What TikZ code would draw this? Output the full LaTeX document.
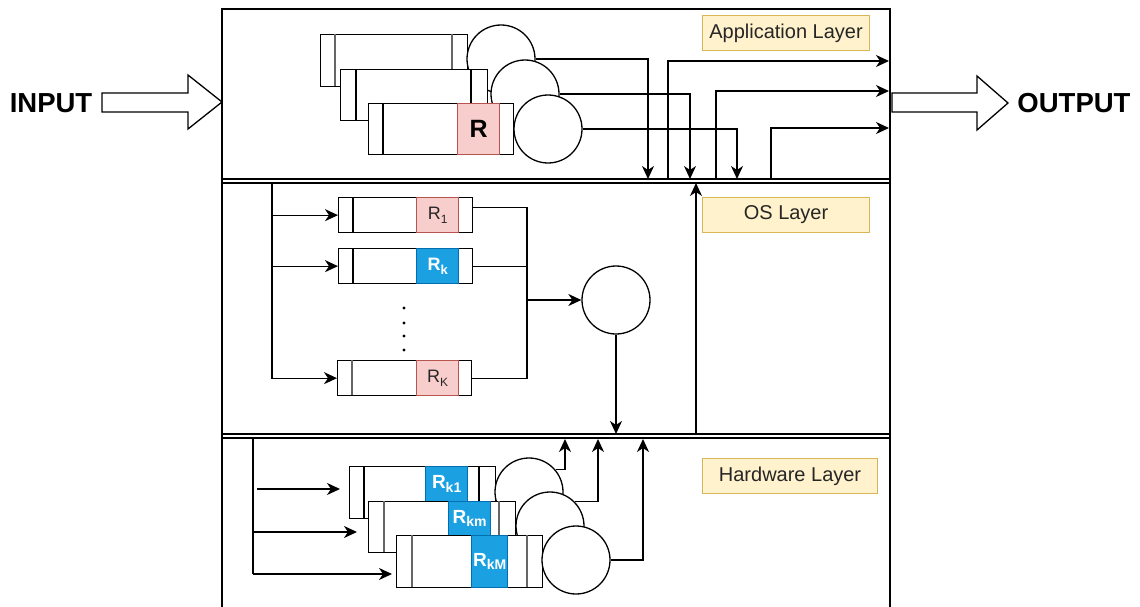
\documentclass[tikz,border=0pt]{standalone}
\usepackage{fontspec}
\setmainfont{Liberation Sans}
\usetikzlibrary{arrows.meta}
\definecolor{pinkF}{HTML}{F8CECC}
\definecolor{pinkD}{HTML}{B85450}
\definecolor{blueF}{HTML}{1BA1E2}
\definecolor{blueD}{HTML}{006EAF}
\definecolor{yelF}{HTML}{FFF2CC}
\definecolor{yelD}{HTML}{D6B656}
\newcommand\subx[2]{\raisebox{-0.35ex}{\fontsize{#1}{#1}\selectfont #2}}
\begin{document}
\begin{tikzpicture}[x=1pt,y=-1pt,line width=1.3pt,
  con/.style={-{Stealth[length=13pt,width=12pt,inset=4pt]}},
  qbox/.style={draw,fill=white,inner sep=0pt,anchor=north west},
  cbox/.style={inner sep=0pt,anchor=north west},
  pinkbox/.style={cbox,draw=pinkD,fill=pinkF},
  bluebox/.style={cbox,draw=blueD,fill=blueF},
  inl/.style={draw=black!60,line width=1.6pt},
  srv/.style={circle,draw,fill=white,minimum size=68pt,inner sep=0pt},
  lab/.style={draw=yelD,fill=yelF,inner sep=0pt,anchor=north west,text=black!85,line width=1.1pt,font=\fontsize{20}{20}\selectfont},
  big/.style={font=\bfseries\fontsize{27.5}{27.5}\selectfont},
  bigarrow/.style={draw,fill=white,line width=1.3pt,line join=miter}
]
\useasboundingbox (0,0) rectangle (1140,607);

% frame and layer separators
\draw[line width=1.4pt] (222,607) -- (222,9) -- (890,9) -- (890,607);
\draw (222,179) -- (890,179);
\draw (222,183) -- (890,183);
\draw (222,434) -- (890,434);
\draw (222,438) -- (890,438);

% labels
\node[lab,minimum width=167pt,minimum height=35pt] (appl) at (702,15) {Application Layer};
\node[lab,minimum width=167pt,minimum height=35pt] (osl) at (702,197) {OS Layer};
\node[lab,minimum width=175pt,minimum height=35pt] (hwl) at (702,458) {Hardware Layer};

% INPUT / OUTPUT
\node[big] (inp) at (51,103) {INPUT};
\node[big] (outp) at (1074,103) {OUTPUT};
\draw[bigarrow] (102,93) -- (188,93) -- (188,75) -- (222,102) -- (188,129) -- (188,112) -- (102,112) -- cycle;
\draw[bigarrow] (892,93) -- (977,93) -- (977,76) -- (1008,103) -- (977,130) -- (977,112) -- (892,112) -- cycle;

% ---------------- application layer
\node[qbox,minimum width=147pt,minimum height=52pt] (A1) at (320,34) {};
\draw[inl] (335,34) -- (335,86);
\draw[inl] (452,34) -- (452,86);
\node[srv] (C1) at (501,59) {};
\node[qbox,minimum width=147pt,minimum height=51pt] (A2) at (340,69) {};
\draw (356,69) -- (356,120);
\draw (471,69) -- (471,120);
\node[srv] (C2) at (525,94) {};
\node[qbox,minimum width=145pt,minimum height=51pt] (A3) at (368,103) {};
\draw (383,103) -- (383,154);
\node[pinkbox,minimum width=42pt,minimum height=51pt] (RA) at (457,103) {};
\node[font=\bfseries\fontsize{25}{25}\selectfont] (RAt) at (RA.center) {R};
\node[srv] (C3) at (548,129) {};

\coordinate (s1) at (648,179);
\coordinate (s2) at (690,179);
\coordinate (s3) at (737,179);
\draw[con] (C1.east) -| (s1);
\draw[con] (C2.east) -| (s2);
\draw[con] (C3.east) -| (s3);

\coordinate (o1s) at (668,179);
\coordinate (o2s) at (716,179);
\coordinate (o3s) at (771,179);
\coordinate (o1) at (889,61);
\coordinate (o2) at (889,91);
\coordinate (o3) at (889,128);
\draw[con] (o1s) |- (o1);
\draw[con] (o2s) |- (o2);
\draw[con] (o3s) |- (o3);

\coordinate (u0) at (696,434);
\coordinate (u1) at (696,183);
\draw[con] (u0) -- (u1);

% ---------------- OS layer
\coordinate (b0) at (272,183);
\coordinate (b1) at (272,373);
\draw (b0) -- (b1);
\node[qbox,minimum width=134pt,minimum height=35pt] (O1) at (338,197) {};
\node[qbox,minimum width=134pt,minimum height=35pt] (O2) at (338,248) {};
\node[qbox,minimum width=134pt,minimum height=35pt] (O3) at (337,360) {};
\draw (353,197) -- (353,232);
\draw (353,248) -- (353,283);
\draw[inl] (352,360) -- (352,395);
\node[pinkbox,minimum width=42pt,minimum height=35pt] (R1) at (416,197) {};
\node[bluebox,minimum width=42pt,minimum height=35pt] (Rk) at (416,248) {};
\node[pinkbox,minimum width=42pt,minimum height=35pt] (RK) at (416,360) {};
\node[text=black!85,font=\fontsize{18}{18}\selectfont] at (R1.center) {R\subx{12}{1}};
\node[text=white,font=\bfseries\fontsize{18}{18}\selectfont] at (Rk.center) {R\subx{13}{k}};
\node[text=black!85,font=\fontsize{18}{18}\selectfont] at (RK.center) {R\subx{12}{K}};
\fill (404,308) circle (1.7);
\fill (404,323) circle (1.7);
\fill (404,336) circle (1.7);
\fill (404,350) circle (1.7);

\draw[con] (b0 |- O1.west) -- (O1.west);
\draw[con] (b0 |- O2.west) -- (O2.west);
\draw[con] (b1) |- (O3.west);

\node[srv] (S) at (616,300) {};
\coordinate (mrg) at (527,300);
\draw ([yshift=8pt]O1.east) -| (mrg);
\draw (O2.east) -| (mrg);
\draw (O3.east) -| (mrg);
\draw[con] (mrg) -- (S.west);
\coordinate (s4) at (616,434);
\draw[con] (S.south) -- (s4);

% ---------------- hardware layer
\coordinate (hb0) at (253,438);
\coordinate (hb1) at (253,574);
\draw (hb0) -- (hb1);

\node[qbox,minimum width=146pt,minimum height=52pt] (H1) at (349,466) {};
\draw (364,466) -- (364,518);
\draw (479,466) -- (479,518);
\node[bluebox,minimum width=42pt,minimum height=35pt] (Rk1) at (425,466) {};
\node[srv] (HC1) at (529,492) {};
\node[qbox,minimum width=147pt,minimum height=51pt] (H2) at (368,501) {};
\draw[inl] (384,501) -- (384,552);
\draw[inl] (499,501) -- (499,552);
\node[bluebox,minimum width=42pt,minimum height=34pt] (Rkm) at (448,501) {};
\node[srv] (HC2) at (550,526) {};
\node[qbox,minimum width=146pt,minimum height=52pt] (H3) at (396,535) {};
\draw[inl] (412,535) -- (412,587);
\draw[inl] (527,535) -- (527,587);
\node[bluebox,minimum width=36pt,minimum height=52pt] (RkM) at (471,535) {};
\node[srv] (HC3) at (576,560) {};
\node[text=white,font=\bfseries\fontsize{19}{19}\selectfont] at (Rk1.center) {R\subx{14}{k1}};
\node[text=white,font=\bfseries\fontsize{19}{19}\selectfont] at (Rkm.center) {R\subx{14}{km}};
\node[text=white,font=\bfseries\fontsize{19}{19}\selectfont] at (RkM.center) {R\subx{14}{kM}};

\coordinate (h1s) at (257,489);
\coordinate (h1e) at (340,489);
\coordinate (h2s) at (253,532);
\coordinate (h2e) at (357,532);
\coordinate (h3e) at (392,574);
\draw[con] (h1s) -- (h1e);
\draw[con] (h2s) -- (h2e);
\draw[con] (hb1) -- (h3e);

\coordinate (t1) at (565,439);
\coordinate (t2) at (598,439);
\coordinate (t3) at (643,439);
\draw[con] (HC1.40) -| (t1);
\draw[con] (HC2.45) -| (t2);
\draw[con] (HC3.east) -| (t3);
\end{tikzpicture}
\end{document}
